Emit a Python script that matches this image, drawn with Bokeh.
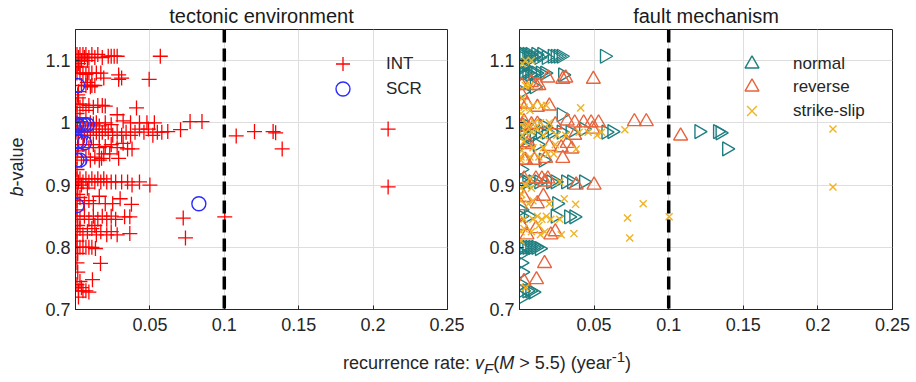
import numpy as np
from bokeh.plotting import figure
from bokeh.models import Span, Legend, LegendItem, FixedTicker, Div
from bokeh.layouts import row, column
from bokeh.embed import file_html
from bokeh.resources import INLINE

# ---------------- data ----------------
x_ticks = [0.05, 0.1, 0.15, 0.2, 0.25]
x_tick_labels = ["0.05", "0.1", "0.15", "0.2", "0.25"]
y_ticks = [0.7, 0.8, 0.9, 1.0, 1.1]
y_tick_labels = ["0.7", "0.8", "0.9", "1", "1.1"]
threshold_rate = 0.1

# INT events, normal faulting
int_normal_rate = [0.001, 0.002, 0.003, 0.005, 0.006, 0.007, 0.009, 0.011, 0.013, 0.015, 0.018, 0.022, 0.024, 0.026, 0.028, 0.057, 0.003, 0.001,
                   0.001, 0.003, 0.005, 0.007, 0.009, 0.011, 0.014, 0.017, 0.029,
                   0.010, 0.002, 0.028, 0.016,
                   0.001, 0.003, 0.006, 0.010, 0.014, 0.018, 0.022, 0.028, 0.034, 0.043, 0.058, 0.062, 0.1203, 0.1328, 0.1345, 0.1389,
                   0.002, 0.012, 0.016,
                   0.001, 0.002, 0.005, 0.009, 0.013, 0.021, 0.024, 0.031, 0.035, 0.043, 0.001,
                   0.025,
                   0.001, 0.006, 0.024, 0.033, 0.0365, 0.001,
                   0.001, 0.003, 0.005, 0.007, 0.009, 0.011, 0.0134, 0.0015,
                   0.001, 0.0015,
                   0.001, 0.002, 0.005, 0.007, 0.009, 0.002]
int_normal_b = [1.110, 1.105, 1.110, 1.110, 1.105, 1.110, 1.105, 1.110, 1.105, 1.110, 1.105, 1.107, 1.107, 1.107, 1.107, 1.107, 1.090, 1.090,
                1.080, 1.080, 1.080, 1.078, 1.080, 1.080, 1.080, 1.080, 1.077,
                1.058, 1.050, 1.013, 0.995,
                0.985, 0.990, 0.980, 0.980, 0.985, 0.985, 0.985, 0.985, 0.985, 0.990, 0.985, 0.986, 0.986, 0.986, 0.984, 0.958,
                0.965, 0.965, 0.940,
                0.910, 0.905, 0.905, 0.905, 0.905, 0.905, 0.905, 0.905, 0.905, 0.905, 0.925,
                0.870,
                0.850, 0.850, 0.850, 0.849, 0.849, 0.860,
                0.800, 0.800, 0.800, 0.800, 0.800, 0.800, 0.798, 0.790,
                0.775, 0.760,
                0.740, 0.730, 0.730, 0.730, 0.728, 0.720]

# INT events, reverse faulting
int_reverse_rate = [0.019, 0.029, 0.031, 0.0495, 0.011, 0.008, 0.013, 0.0015,
                    0.001, 0.005, 0.012, 0.020,
                    0.032, 0.037, 0.043, 0.048, 0.053, 0.077, 0.085, 0.003, 0.012, 0.024,
                    0.037, 0.049, 0.108,
                    0.005, 0.020, 0.028, 0.032, 0.035, 0.029, 0.0175,
                    0.004, 0.010,
                    0.003, 0.011, 0.015, 0.017, 0.019, 0.038, 0.050,
                    0.003, 0.012, 0.016,
                    0.005, 0.011, 0.021, 0.024, 0.0015,
                    0.0168, 0.003, 0.0114]
int_reverse_b = [1.072, 1.070, 1.072, 1.070, 1.060, 1.065, 1.060, 1.045,
                 1.030, 1.030, 1.025, 1.027,
                 1.003, 1.000, 1.000, 1.000, 1.000, 1.002, 1.002, 1.002, 0.998, 0.997,
                 0.980, 0.990, 0.979,
                 0.965, 0.962, 0.960, 0.967, 0.958, 0.943, 0.943,
                 0.940, 0.940,
                 0.910, 0.910, 0.910, 0.905, 0.910, 0.900, 0.900,
                 0.880, 0.870, 0.882,
                 0.820, 0.830, 0.820, 0.825, 0.835,
                 0.774, 0.745, 0.748]

# INT events, strike-slip faulting
int_strike_rate = [0.004, 0.008, 0.002,
                   0.004, 0.007, 0.002,
                   0.003, 0.007, 0.009, 0.015, 0.018, 0.041, 0.001,
                   0.001, 0.005, 0.010, 0.014, 0.020,
                   0.002, 0.004, 0.008, 0.012, 0.016, 0.020, 0.025, 0.031, 0.040, 0.046, 0.052, 0.055, 0.0706, 0.2101, 0.2101,
                   0.009, 0.016, 0.024, 0.038,
                   0.001, 0.007, 0.013, 0.019, 0.023, 0.0015,
                   0.007, 0.027, 0.001, 0.004, 0.008,
                   0.001, 0.006, 0.009, 0.020, 0.030, 0.0376, 0.0015,
                   0.003, 0.009, 0.012, 0.015, 0.018, 0.021, 0.027, 0.0724, 0.1003,
                   0.001, 0.003, 0.008, 0.014, 0.017, 0.028, 0.0365, 0.0739, 0.013, 0.001,
                   0.004]
int_strike_b = [1.100, 1.100, 1.095,
                1.060, 1.060, 1.040,
                1.025, 1.020, 1.028, 1.028, 1.028, 1.024, 1.015,
                1.000, 0.995, 1.000, 1.000, 1.000,
                0.980, 0.985, 0.985, 0.990, 0.980, 0.990, 0.980, 0.980, 0.985, 0.985, 0.980, 0.985, 0.989, 0.990, 0.897,
                0.960, 0.960, 0.965, 0.958,
                0.945, 0.945, 0.945, 0.950, 0.950, 0.955,
                0.910, 0.905, 0.895, 0.900, 0.895,
                0.875, 0.870, 0.875, 0.870, 0.878, 0.869, 0.885,
                0.845, 0.845, 0.850, 0.845, 0.850, 0.845, 0.845, 0.847, 0.849,
                0.825, 0.830, 0.825, 0.820, 0.825, 0.820, 0.822, 0.815, 0.835, 0.810,
                0.735]

# SCR events
scr_rate = [0.0015, 0.001, 0.002, 0.004, 0.006, 0.008, 0.001, 0.003, 0.006, 0.001, 0.003, 0.001, 0.0829]
scr_b = [1.060, 0.998, 0.995, 0.997, 0.997, 0.997, 0.970, 0.970, 0.968, 0.940, 0.940, 0.867, 0.870]
scr_mech = ["R", "S", "R", "N", "S", "R", "N", "S", "R", "S", "R", "R", "S"]

# ---------------- derived groupings ----------------
int_rate = int_normal_rate + int_reverse_rate + int_strike_rate
int_b = int_normal_b + int_reverse_b + int_strike_b

def pick(m):
    r = [x for x, mm in zip(scr_rate, scr_mech) if mm == m]
    b = [y for y, mm in zip(scr_b, scr_mech) if mm == m]
    return r, b

scr_n = pick("N"); scr_r = pick("R"); scr_s = pick("S")
normal_rate = int_normal_rate + scr_n[0]; normal_b = int_normal_b + scr_n[1]
reverse_rate = int_reverse_rate + scr_r[0]; reverse_b = int_reverse_b + scr_r[1]
strike_rate = int_strike_rate + scr_s[0]; strike_b = int_strike_b + scr_s[1]

FONT = "Liberation Sans"
TXT = "#262626"
FIG_H = 340

def make_fig(title, width, left, right):
    p = figure(width=width, height=FIG_H, x_range=(0, 0.25), y_range=(0.7, 1.15),
               output_backend="svg", toolbar_location=None, title=title,
               min_border_left=left, min_border_right=right, min_border_top=29, min_border_bottom=31)
    p.title.text_font = FONT
    p.title.text_font_size = "20px"
    p.title.text_font_style = "normal"
    p.title.text_color = "#1a1a1a"
    p.title.align = "center"
    p.title.standoff = 5
    p.background_fill_color = "white"
    p.border_fill_color = "white"
    p.outline_line_color = TXT
    p.outline_line_width = 1
    p.outline_line_alpha = 1
    p.xaxis.ticker = FixedTicker(ticks=x_ticks)
    p.yaxis.ticker = FixedTicker(ticks=y_ticks)
    p.xaxis.major_label_overrides = dict(zip(x_ticks, x_tick_labels))
    p.yaxis.major_label_overrides = dict(zip(y_ticks, y_tick_labels))
    for ax in (p.xaxis, p.yaxis):
        ax.axis_line_color = TXT
        ax.major_tick_line_color = TXT
        ax.major_tick_in = 4
        ax.major_tick_out = 0
        ax.minor_tick_line_color = None
        ax.major_label_text_font = FONT
        ax.major_label_text_font_size = "18px"
        ax.major_label_text_color = TXT
    p.xaxis.major_label_standoff = 8
    p.yaxis.major_label_standoff = 5
    p.xgrid.ticker = FixedTicker(ticks=x_ticks)
    p.ygrid.ticker = FixedTicker(ticks=y_ticks)
    p.grid.grid_line_color = "#dedede"
    p.grid.grid_line_width = 1
    p.add_layout(Span(location=threshold_rate, dimension="height", line_color="black",
                      line_width=3.5, line_dash="13 6"))
    return p

def one_legend(label, renderer, loc, standoff):
    return Legend(items=[LegendItem(label=label, renderers=[renderer])], location=loc,
                  glyph_width=35, glyph_height=35, label_standoff=standoff,
                  border_line_color=None, background_fill_alpha=0, label_text_font=FONT,
                  label_text_font_size="17px", label_text_color=TXT, padding=0, margin=0)

# ---------------- left: tectonic environment ----------------
p1 = make_fig("tectonic environment", 434, 45, 17)
r_int = p1.scatter(int_rate, int_b, marker="cross", size=15, line_color="#ff0000", line_width=1.3)
r_scr = p1.scatter(scr_rate, scr_b, marker="circle", size=14, fill_color=None, line_color="#2b2bff", line_width=1.4)
p1.add_layout(one_legend("INT", r_int, (250, 228), 26))
p1.add_layout(one_legend("SCR", r_scr, (250, 203), 26))

# ---------------- right: fault mechanism ----------------
p2 = make_fig("fault mechanism", 452, 55, 24)
r_n = p2.scatter(normal_rate, normal_b, marker="triangle", angle=-np.pi / 2, size=14, fill_color=None,
                 line_color="#1f7f80", line_width=1.4)
r_r = p2.scatter(reverse_rate, reverse_b, marker="triangle", size=14, fill_color=None,
                 line_color="#e8643c", line_width=1.4)
r_s = p2.scatter(strike_rate, strike_b, marker="x", size=10, line_color="#f0b323", line_width=1.4)
p2.add_layout(one_legend("normal", r_n, (215, 228), 24))
p2.add_layout(one_legend("reverse", r_r, (215, 205), 24))
p2.add_layout(one_legend("strike-slip", r_s, (215, 181), 24))

ylabel = Div(text='<div style="width:340px; height:30px; line-height:30px; text-align:center; '
                  'transform-origin:0 0; transform:translate(2px, 337px) rotate(-90deg); '
                  'font-family:\'Liberation Sans\'; font-size:18px; color:#262626; white-space:nowrap;">'
                  '<i>b</i>-value</div>',
             width=30, height=FIG_H, margin=0)

xlabel = Div(text='<div style="width:916px; box-sizing:border-box; font-family:\'Liberation Sans\'; '
                  'font-size:18px; color:#262626; text-align:center; padding-left:58px; padding-top:6px; '
                  'white-space:nowrap;">'
                  'recurrence rate: <i>v</i><sub><i>F</i></sub>(<i>M</i> &gt; 5.5) (year<sup>-1</sup>)</div>',
             width=916, height=382 - FIG_H, margin=0)

layout = column(row(ylabel, p1, p2), xlabel)
open("out.html", "w").write(file_html(layout, INLINE))
